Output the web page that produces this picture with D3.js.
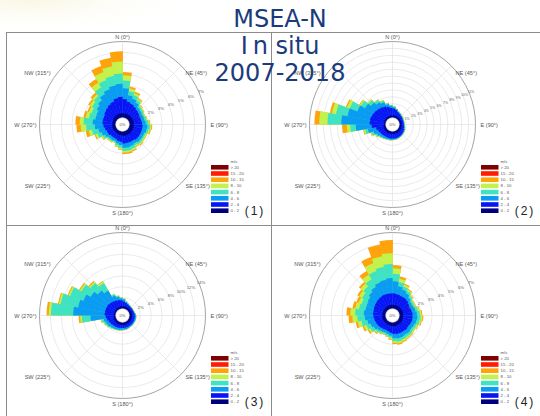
<!DOCTYPE html>
<html>
<head>
<meta charset="utf-8">
<script src="https://cdn.jsdelivr.net/npm/d3@7"></script>
<style>
  html, body { margin: 0; padding: 0; background: #ffffff; }
  svg { display: block; }
</style>
</head>
<body>
<script>
// ---- data -------------------------------------------------------------
// Direction bins (start of each 10° sector, clockwise from north)
const directions = [0,10,20,30,40,50,60,70,80,90,100,110,120,130,140,150,160,170,
                    180,190,200,210,220,230,240,250,260,270,280,290,300,310,320,330,340,350];

// Wind speed classes (m/s), lowest first
const speedClasses = ["0 - 2","2 - 4","4 - 6","6 - 8","8 - 10","10 - 15","15 - 20","> 20"];
const classColors  = ["#00007f","#0a14f5","#0a9cf2","#3fe3c3","#c4f24c","#ffa30d","#ff1c00","#7f0000"];

const directionLabels = ["N (0°)","NE (45°)","E (90°)","SE (135°)","S (180°)","SW (225°)","W (270°)","NW (315°)"];

// Cumulative frequency (%) per direction, up to the top of each speed class
// (0-2, 2-4, 4-6, 6-8, 8-10, 10-15); classes above 15 m/s are empty.
const rose1 = [
  [0.4,1.7,2.7,3.4,3.9,4.2],[0.4,1.5,2.1,2.5,2.75,2.9],[0.4,1.4,1.9,2.25,2.45,2.6],
  [0.4,1.3,1.7,1.95,2.1,2.2],[0.4,1.2,1.45,1.65,1.75,1.8],[0.4,1.15,1.4,1.58,1.66,1.7],
  [0.4,1.1,1.35,1.5,1.57,1.6],[0.4,1.1,1.4,1.6,1.67,1.7],[0.4,1.15,1.5,1.75,1.85,1.9],
  [0.4,1.2,1.65,1.9,2.02,2.1],[0.4,1.2,1.6,1.8,1.92,2.0],[0.4,1.2,1.5,1.65,1.75,1.8],
  [0.4,1.2,1.5,1.65,1.75,1.8],[0.4,1.2,1.5,1.7,1.82,1.9],[0.4,1.1,1.4,1.6,1.72,1.8],
  [0.4,1.1,1.45,1.75,1.9,2.0],[0.4,1.1,1.5,1.8,1.95,2.1],[0.4,1.1,1.5,1.8,1.95,2.1],
  [0.35,0.95,1.25,1.5,1.62,1.7],[0.35,0.9,1.15,1.35,1.45,1.5],[0.3,0.8,1.0,1.12,1.18,1.2],
  [0.3,0.8,1.05,1.2,1.27,1.3],[0.3,0.8,1.05,1.2,1.27,1.3],[0.3,0.9,1.2,1.45,1.55,1.6],
  [0.3,0.9,1.4,1.8,2.0,2.1],[0.3,1.0,1.6,2.2,2.5,2.8],[0.3,1.1,1.9,2.7,3.2,3.6],
  [0.3,1.2,2.1,2.95,3.3,3.7],[0.3,1.2,1.9,2.5,2.8,3.0],[0.3,1.2,1.9,2.4,2.65,2.8],
  [0.35,1.3,2.1,2.6,2.85,3.0],[0.35,1.4,2.3,2.8,3.0,3.2],[0.35,1.5,2.6,3.3,3.8,4.2],
  [0.4,1.6,2.8,3.7,4.5,5.1],[0.4,1.8,3.0,3.9,4.8,5.6],[0.4,1.9,3.1,4.05,5.15,6.1]
];

const rose2 = [
  [0.3,1.3,1.5,1.6,1.62,1.65],[0.3,1.1,1.25,1.3,1.32,1.35],[0.3,0.9,1.0,1.05,1.07,1.1],
  [0.3,0.8,0.9,0.95,0.97,1.0],[0.3,0.7,0.8,0.85,0.87,0.9],[0.3,0.65,0.75,0.8,0.82,0.85],
  [0.3,0.6,0.7,0.75,0.77,0.8],[0.3,0.6,0.68,0.72,0.74,0.75],[0.3,0.6,0.68,0.72,0.74,0.75],
  [0.3,0.65,0.72,0.76,0.78,0.8],[0.3,0.7,0.8,0.85,0.87,0.9],[0.35,0.8,0.9,0.95,0.97,1.0],
  [0.35,0.85,0.95,1.0,1.02,1.05],[0.35,0.9,1.0,1.05,1.07,1.1],[0.35,0.95,1.05,1.1,1.12,1.15],
  [0.35,1.0,1.1,1.15,1.17,1.2],[0.35,1.0,1.15,1.2,1.22,1.25],[0.35,1.0,1.15,1.2,1.22,1.25],
  [0.35,1.0,1.2,1.25,1.27,1.3],[0.35,1.0,1.2,1.28,1.3,1.32],[0.35,1.0,1.25,1.3,1.33,1.35],
  [0.35,1.0,1.3,1.4,1.43,1.45],[0.35,1.05,1.4,1.5,1.55,1.6],[0.35,1.1,1.6,1.8,1.87,1.9],
  [0.3,1.2,1.9,2.2,2.3,2.4],[0.3,1.4,2.6,3.0,3.2,3.3],[0.25,2.0,4.3,5.1,5.6,6.3],
  [0.2,2.3,6.4,8.4,9.6,10.3],[0.2,2.3,5.6,7.3,7.9,8.2],[0.25,2.2,4.4,5.6,6.0,6.2],
  [0.25,2.1,3.6,4.3,4.5,4.6],[0.3,2.0,3.1,3.6,3.75,3.8],[0.3,1.9,2.7,3.05,3.15,3.2],
  [0.3,1.8,2.4,2.65,2.75,2.8],[0.3,1.6,2.0,2.1,2.15,2.2],[0.3,1.4,1.7,1.8,1.83,1.85]
];

const rose3 = [
  [0.4,1.3,1.7,1.8,1.82,1.85],[0.4,1.1,1.3,1.38,1.4,1.42],[0.4,0.95,1.1,1.15,1.17,1.2],
  [0.4,0.85,0.95,1.0,1.02,1.05],[0.4,0.8,0.9,0.95,0.97,1.0],[0.4,0.8,0.9,0.93,0.95,0.97],
  [0.4,0.8,0.9,0.93,0.95,0.97],[0.4,0.85,0.95,1.0,1.02,1.05],[0.45,0.95,1.1,1.15,1.17,1.2],
  [0.45,1.0,1.2,1.25,1.27,1.3],[0.45,1.0,1.2,1.25,1.27,1.3],[0.45,1.0,1.2,1.25,1.27,1.3],
  [0.45,1.0,1.2,1.25,1.27,1.3],[0.45,1.0,1.2,1.25,1.27,1.3],[0.45,1.0,1.2,1.25,1.27,1.3],
  [0.45,1.0,1.25,1.3,1.32,1.35],[0.45,1.0,1.3,1.35,1.37,1.4],[0.45,1.0,1.3,1.4,1.42,1.45],
  [0.45,1.0,1.35,1.45,1.47,1.5],[0.45,1.05,1.4,1.5,1.52,1.55],[0.45,1.1,1.5,1.6,1.63,1.65],
  [0.45,1.15,1.6,1.7,1.73,1.75],[0.45,1.2,1.7,1.85,1.88,1.9],[0.4,1.3,1.9,2.1,2.15,2.2],
  [0.4,1.4,2.0,2.3,2.35,2.4],[0.35,1.6,2.2,2.6,2.7,2.8],[0.3,1.8,4.6,6.2,6.5,6.8],
  [0.3,2.0,7.8,11.9,12.3,12.7],[0.3,2.0,7.0,10.3,10.6,10.8],[0.3,2.0,6.4,9.0,9.3,9.5],
  [0.35,2.0,5.5,7.5,7.8,8.0],[0.35,1.9,4.7,6.5,6.8,7.0],[0.35,1.8,4.0,5.6,5.9,6.0],
  [0.35,1.7,2.6,2.9,3.0,3.0],[0.4,1.6,2.2,2.4,2.45,2.5],[0.4,1.5,1.9,2.0,2.05,2.1]
];

const rose4 = [
  [0.35,1.4,2.5,3.2,3.7,4.0],[0.35,1.35,2.1,2.5,2.8,3.0],[0.35,1.3,1.9,2.2,2.4,2.5],
  [0.35,1.3,1.75,2.0,2.12,2.2],[0.35,1.25,1.55,1.75,1.85,1.9],[0.35,1.15,1.4,1.58,1.66,1.7],
  [0.35,1.1,1.4,1.58,1.66,1.7],[0.35,1.15,1.5,1.72,1.84,1.9],[0.35,1.2,1.6,1.88,2.02,2.1],
  [0.35,1.2,1.65,1.95,2.1,2.2],[0.35,1.2,1.6,1.88,2.02,2.1],[0.35,1.15,1.5,1.72,1.84,1.9],
  [0.35,1.1,1.45,1.65,1.75,1.8],[0.35,1.15,1.5,1.72,1.84,1.9],[0.35,1.1,1.45,1.7,1.83,1.9],
  [0.35,1.1,1.5,1.75,1.9,2.0],[0.35,1.1,1.5,1.8,1.97,2.1],[0.35,1.05,1.45,1.72,1.88,2.0],
  [0.35,0.95,1.2,1.4,1.52,1.6],[0.3,0.85,1.1,1.27,1.35,1.4],[0.3,0.8,1.05,1.2,1.26,1.3],
  [0.3,0.85,1.1,1.27,1.35,1.4],[0.3,0.9,1.2,1.42,1.53,1.6],[0.3,0.95,1.35,1.7,1.88,2.0],
  [0.3,1.0,1.5,1.9,2.15,2.3],[0.3,1.05,1.7,2.25,2.6,2.8],[0.3,1.1,1.9,2.6,3.05,3.4],
  [0.3,1.15,2.0,2.8,3.25,3.6],[0.3,1.15,1.9,2.5,2.85,3.1],[0.3,1.2,1.9,2.4,2.7,2.9],
  [0.3,1.25,2.0,2.6,2.9,3.1],[0.3,1.3,2.2,2.85,3.2,3.4],[0.3,1.35,2.4,3.2,3.7,4.1],
  [0.35,1.4,2.6,3.7,4.5,5.1],[0.35,1.4,2.7,3.9,4.9,6.0],[0.35,1.4,2.8,4.1,5.1,6.3]
];

// Frequency rings (%) of each rose
const ticks1 = [1,2,3,4,5,6,7];
const ticks2 = [1,2,3,4,5,6,7,8,9,10,11];
const ticks3 = [2,4,6,8,10,12,14];
const ticks4 = [1,2,3,4,5,6,7];

const panelTags = ["(1)","(2)","(3)","(4)"];
const titleLines = ["MSEA-N", "In situ", "2007-2018"];

// ---- layout -------------------------------------------------------------
const W = 540, H = 416;
const R = 83;        // outer ring radius
const R0 = 7;        // calm circle radius
const panels = [
  { cx: 122.5, cy: 124.5, rows: rose1, ticks: ticks1, tag: panelTags[0], tickFont: 4.3 },
  { cx: 392.5, cy: 124.5, rows: rose2, ticks: ticks2, tag: panelTags[1], tickFont: 3.4 },
  { cx: 122.5, cy: 315.5, rows: rose3, ticks: ticks3, tag: panelTags[2], tickFont: 4.3 },
  { cx: 392.5, cy: 315.5, rows: rose4, ticks: ticks4, tag: panelTags[3], tickFont: 4.3 }
];

const svg = d3.select("body").append("svg")
  .attr("width", W).attr("height", H)
  .attr("viewBox", `0 0 ${W} ${H}`);

svg.append("rect").attr("width", W).attr("height", H).attr("fill", "#ffffff");

// faint wash behind the heading
const defs = svg.append("defs");
const wash = defs.append("radialGradient").attr("id", "wash")
  .attr("cx", "0.1").attr("cy", "0").attr("r", "0.6");
wash.append("stop").attr("offset", "0").attr("stop-color", "#f7f3d8").attr("stop-opacity", 0.7);
wash.append("stop").attr("offset", "1").attr("stop-color", "#ffffff").attr("stop-opacity", 0);
svg.append("rect").attr("x", 0).attr("y", 0).attr("width", 300).attr("height", 60).attr("fill", "url(#wash)");

// panel frames
const frame = svg.append("g").attr("stroke", "#8c8c8c").attr("stroke-width", 1).attr("fill", "none");
frame.append("line").attr("x1", 6).attr("x2", W).attr("y1", 32.5).attr("y2", 32.5);
frame.append("line").attr("x1", 6).attr("x2", W).attr("y1", 225.5).attr("y2", 225.5);
frame.append("line").attr("x1", 6.5).attr("x2", 6.5).attr("y1", 32).attr("y2", H);
frame.append("line").attr("x1", 271.5).attr("x2", 271.5).attr("y1", 32).attr("y2", H);

const arc = d3.arc();
const deg = Math.PI / 180;
const labelFont = "'Liberation Sans', Arial, sans-serif";

panels.forEach(p => {
  const g = svg.append("g").attr("transform", `translate(${p.cx},${p.cy})`);
  const rMax = p.ticks[p.ticks.length - 1];
  const r = d3.scaleLinear().domain([0, rMax]).range([R0, R]);

  // spokes
  g.selectAll("line.spoke").data(d3.range(8)).join("line")
    .attr("x1", 0).attr("y1", 0)
    .attr("x2", i => R * Math.sin(i * 45 * deg))
    .attr("y2", i => -R * Math.cos(i * 45 * deg))
    .attr("stroke", "#dcdcdc").attr("stroke-width", 0.6);

  // frequency rings
  g.selectAll("circle.ring").data(p.ticks).join("circle")
    .attr("r", t => r(t)).attr("fill", "none")
    .attr("stroke", (t, i) => i === p.ticks.length - 1 ? "#9a9a9a" : "#dcdcdc")
    .attr("stroke-width", (t, i) => i === p.ticks.length - 1 ? 0.9 : 0.6);

  // stacked sectors: each class drawn from the calm circle out to its
  // cumulative value, outermost class first, so the layers nest cleanly
  const segs = [];
  const nCls = p.rows[0].length;
  for (let ci = nCls - 1; ci >= 0; ci--) {
    p.rows.forEach((row, di) => {
      const lo = ci === 0 ? 0 : row[ci - 1];
      if (row[ci] > lo) segs.push({ dir: directions[di], hi: row[ci], ci });
    });
  }
  g.selectAll("path.seg").data(segs).join("path")
    .attr("d", s => arc({
      innerRadius: R0, outerRadius: r(s.hi),
      startAngle: s.dir * deg, endAngle: (s.dir + 10.35) * deg
    }))
    .attr("fill", s => classColors[s.ci]);

  // calm circle
  g.append("circle").attr("r", R0).attr("fill", "#ffffff")
    .attr("stroke", "#5a5a5a").attr("stroke-width", 0.4);
  g.append("text").attr("x", 0).attr("y", 1.5).attr("text-anchor", "middle")
    .attr("font-family", labelFont).attr("font-size", 4).attr("fill", "#555")
    .text("0%");

  // ring labels along the 67.5° bearing
  const a = 67.5 * deg;
  g.selectAll("text.rl").data(p.ticks).join("text")
    .attr("x", t => (r(t) + 2) * Math.sin(a))
    .attr("y", t => -(r(t) + 2) * Math.cos(a) + 1.5)
    .attr("text-anchor", "middle")
    .attr("font-family", labelFont).attr("font-size", p.tickFont).attr("fill", "#666")
    .text(t => t + "%");

  // compass labels
  const cl = [
    { x: 0, y: -R - 2.5, anchor: "middle" },
    { x: 63, y: -50, anchor: "start" },
    { x: R + 5, y: 2, anchor: "start" },
    { x: 63, y: 63, anchor: "start" },
    { x: 0, y: R + 7, anchor: "middle" },
    { x: -72, y: 63, anchor: "end" },
    { x: -R - 3, y: 2, anchor: "end" },
    { x: -72, y: -50, anchor: "end" }
  ];
  g.selectAll("text.dl").data(directionLabels).join("text")
    .attr("x", (d, i) => cl[i].x).attr("y", (d, i) => cl[i].y)
    .attr("text-anchor", (d, i) => cl[i].anchor)
    .attr("font-family", labelFont).attr("font-size", 5.6).attr("fill", "#555")
    .text(d => d);

  // legend (highest class on top)
  const lg = g.append("g").attr("transform", "translate(88.5,40.5)");
  lg.append("text").attr("x", 19.5).attr("y", -2).attr("font-family", labelFont)
    .attr("font-size", 4.3).attr("fill", "#555").text("m/s");
  const order = speedClasses.map((s, i) => i).reverse();
  lg.selectAll("rect").data(order).join("rect")
    .attr("x", 0).attr("y", (c, k) => k * 6.2)
    .attr("width", 17.5).attr("height", 4.6)
    .attr("fill", c => classColors[c]);
  lg.selectAll("text.ll").data(order).join("text")
    .attr("x", 19.5).attr("y", (c, k) => k * 6.2 + 3.8)
    .attr("font-family", labelFont).attr("font-size", 4.3).attr("fill", "#555")
    .text(c => speedClasses[c]);

  // panel tag
  g.append("text").attr("x", 132.5).attr("y", 90)
    .attr("text-anchor", "middle").attr("font-family", labelFont)
    .attr("font-size", 12).attr("letter-spacing", 2).attr("fill", "#222")
    .text(p.tag);
});

// heading
const title = svg.append("g").attr("font-family", "'DejaVu Sans', Verdana, sans-serif")
  .attr("font-size", 24).attr("fill", "#1b3b7c").attr("text-anchor", "middle");
title.append("text").attr("x", 280).attr("y", 27).text(titleLines[0]);
const t2 = title.append("text").attr("x", 280).attr("y", 53.5);
t2.append("tspan").text(titleLines[1].slice(0, 1));
t2.append("tspan").attr("dx", 5).text(titleLines[1].slice(1));
title.append("text").attr("x", 280).attr("y", 81).text(titleLines[2]);
</script>
</body>
</html>
